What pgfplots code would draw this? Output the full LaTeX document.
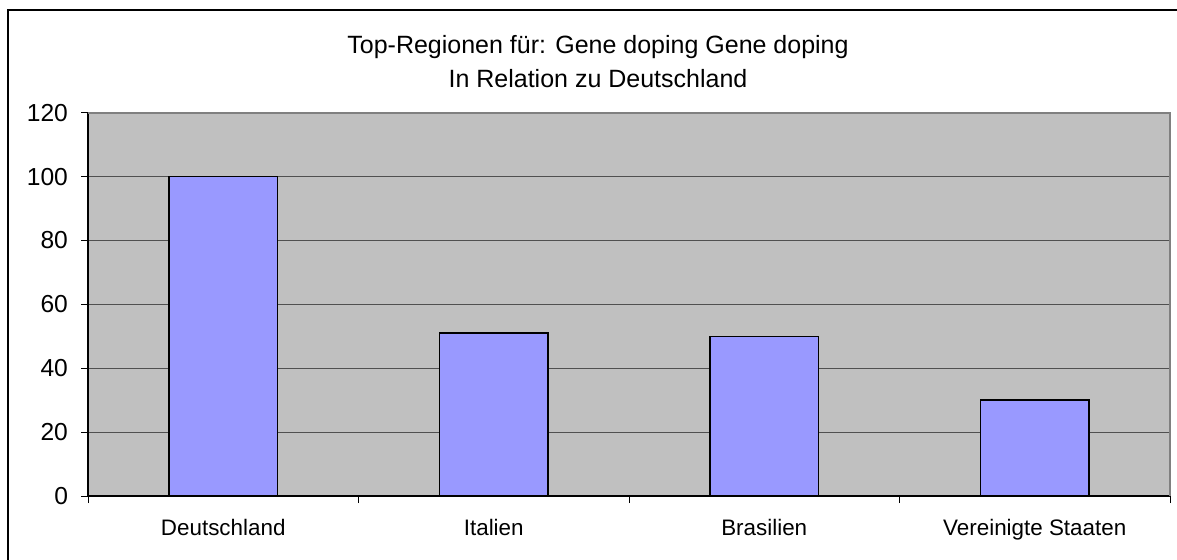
\documentclass[border=0pt]{standalone}
\usepackage{fontspec}
\setmainfont{Liberation Sans}
\usepackage{pgfplots}
\pgfplotsset{compat=1.18}
\definecolor{plotbg}{HTML}{C0C0C0}
\definecolor{barfill}{HTML}{9999FF}
\definecolor{gridc}{HTML}{505050}
\begin{document}
\begin{tikzpicture}[x=0.5pt,y=0.5pt]
\useasboundingbox (0,0) rectangle (1177,559);
\fill[white] (0,0) rectangle (1177,559);
\draw[black, line width=1pt] (8,-5) -- (8,549) -- (1185,549);
\node[align=center, font={\fontsize{12.5}{17}\selectfont}] at (598,497) {Top-Regionen für: Gene doping Gene doping\\In Relation zu Deutschland};
\begin{axis}[
  at={(44pt,31.5pt)}, anchor=south west,
  scale only axis, width=541pt, height=191.65pt,
  xmin=-0.5, xmax=3.5, ymin=0, ymax=120,
  ytick={0,20,...,120},
  xtick={-0.5,0.5,1.5,2.5,3.5}, xticklabels={},
  extra x ticks={0,1,2,3},
  extra x tick labels={Deutschland,Italien,Brasilien,Vereinigte Staaten},
  extra x tick style={major tick length=0pt, xticklabel style={yshift=-8pt, font={\fontsize{11.2}{13}\selectfont}}},
  axis lines=left, axis line style={-, black, line width=0.6pt},
  tick align=outside, major tick length=3.5pt,
  tick style={black, line width=0.5pt},
  axis background/.style={fill=plotbg},
  ymajorgrids, major grid style={draw=gridc, line width=0.5pt},
  yticklabel style={font={\fontsize{12.3}{14}\selectfont}, xshift=-3pt},
  /pgf/number format/assume math mode=true,
  clip=false,
]
\draw[gray, line width=0.8pt] (rel axis cs:1,0) -- (rel axis cs:1,1) -- (rel axis cs:0,1);
\addplot[ybar, bar width=0.4, fill=barfill, draw=black, line width=0.7pt] coordinates {(0,100) (1,51) (2,50) (3,30)};
\end{axis}
\end{tikzpicture}
\end{document}
